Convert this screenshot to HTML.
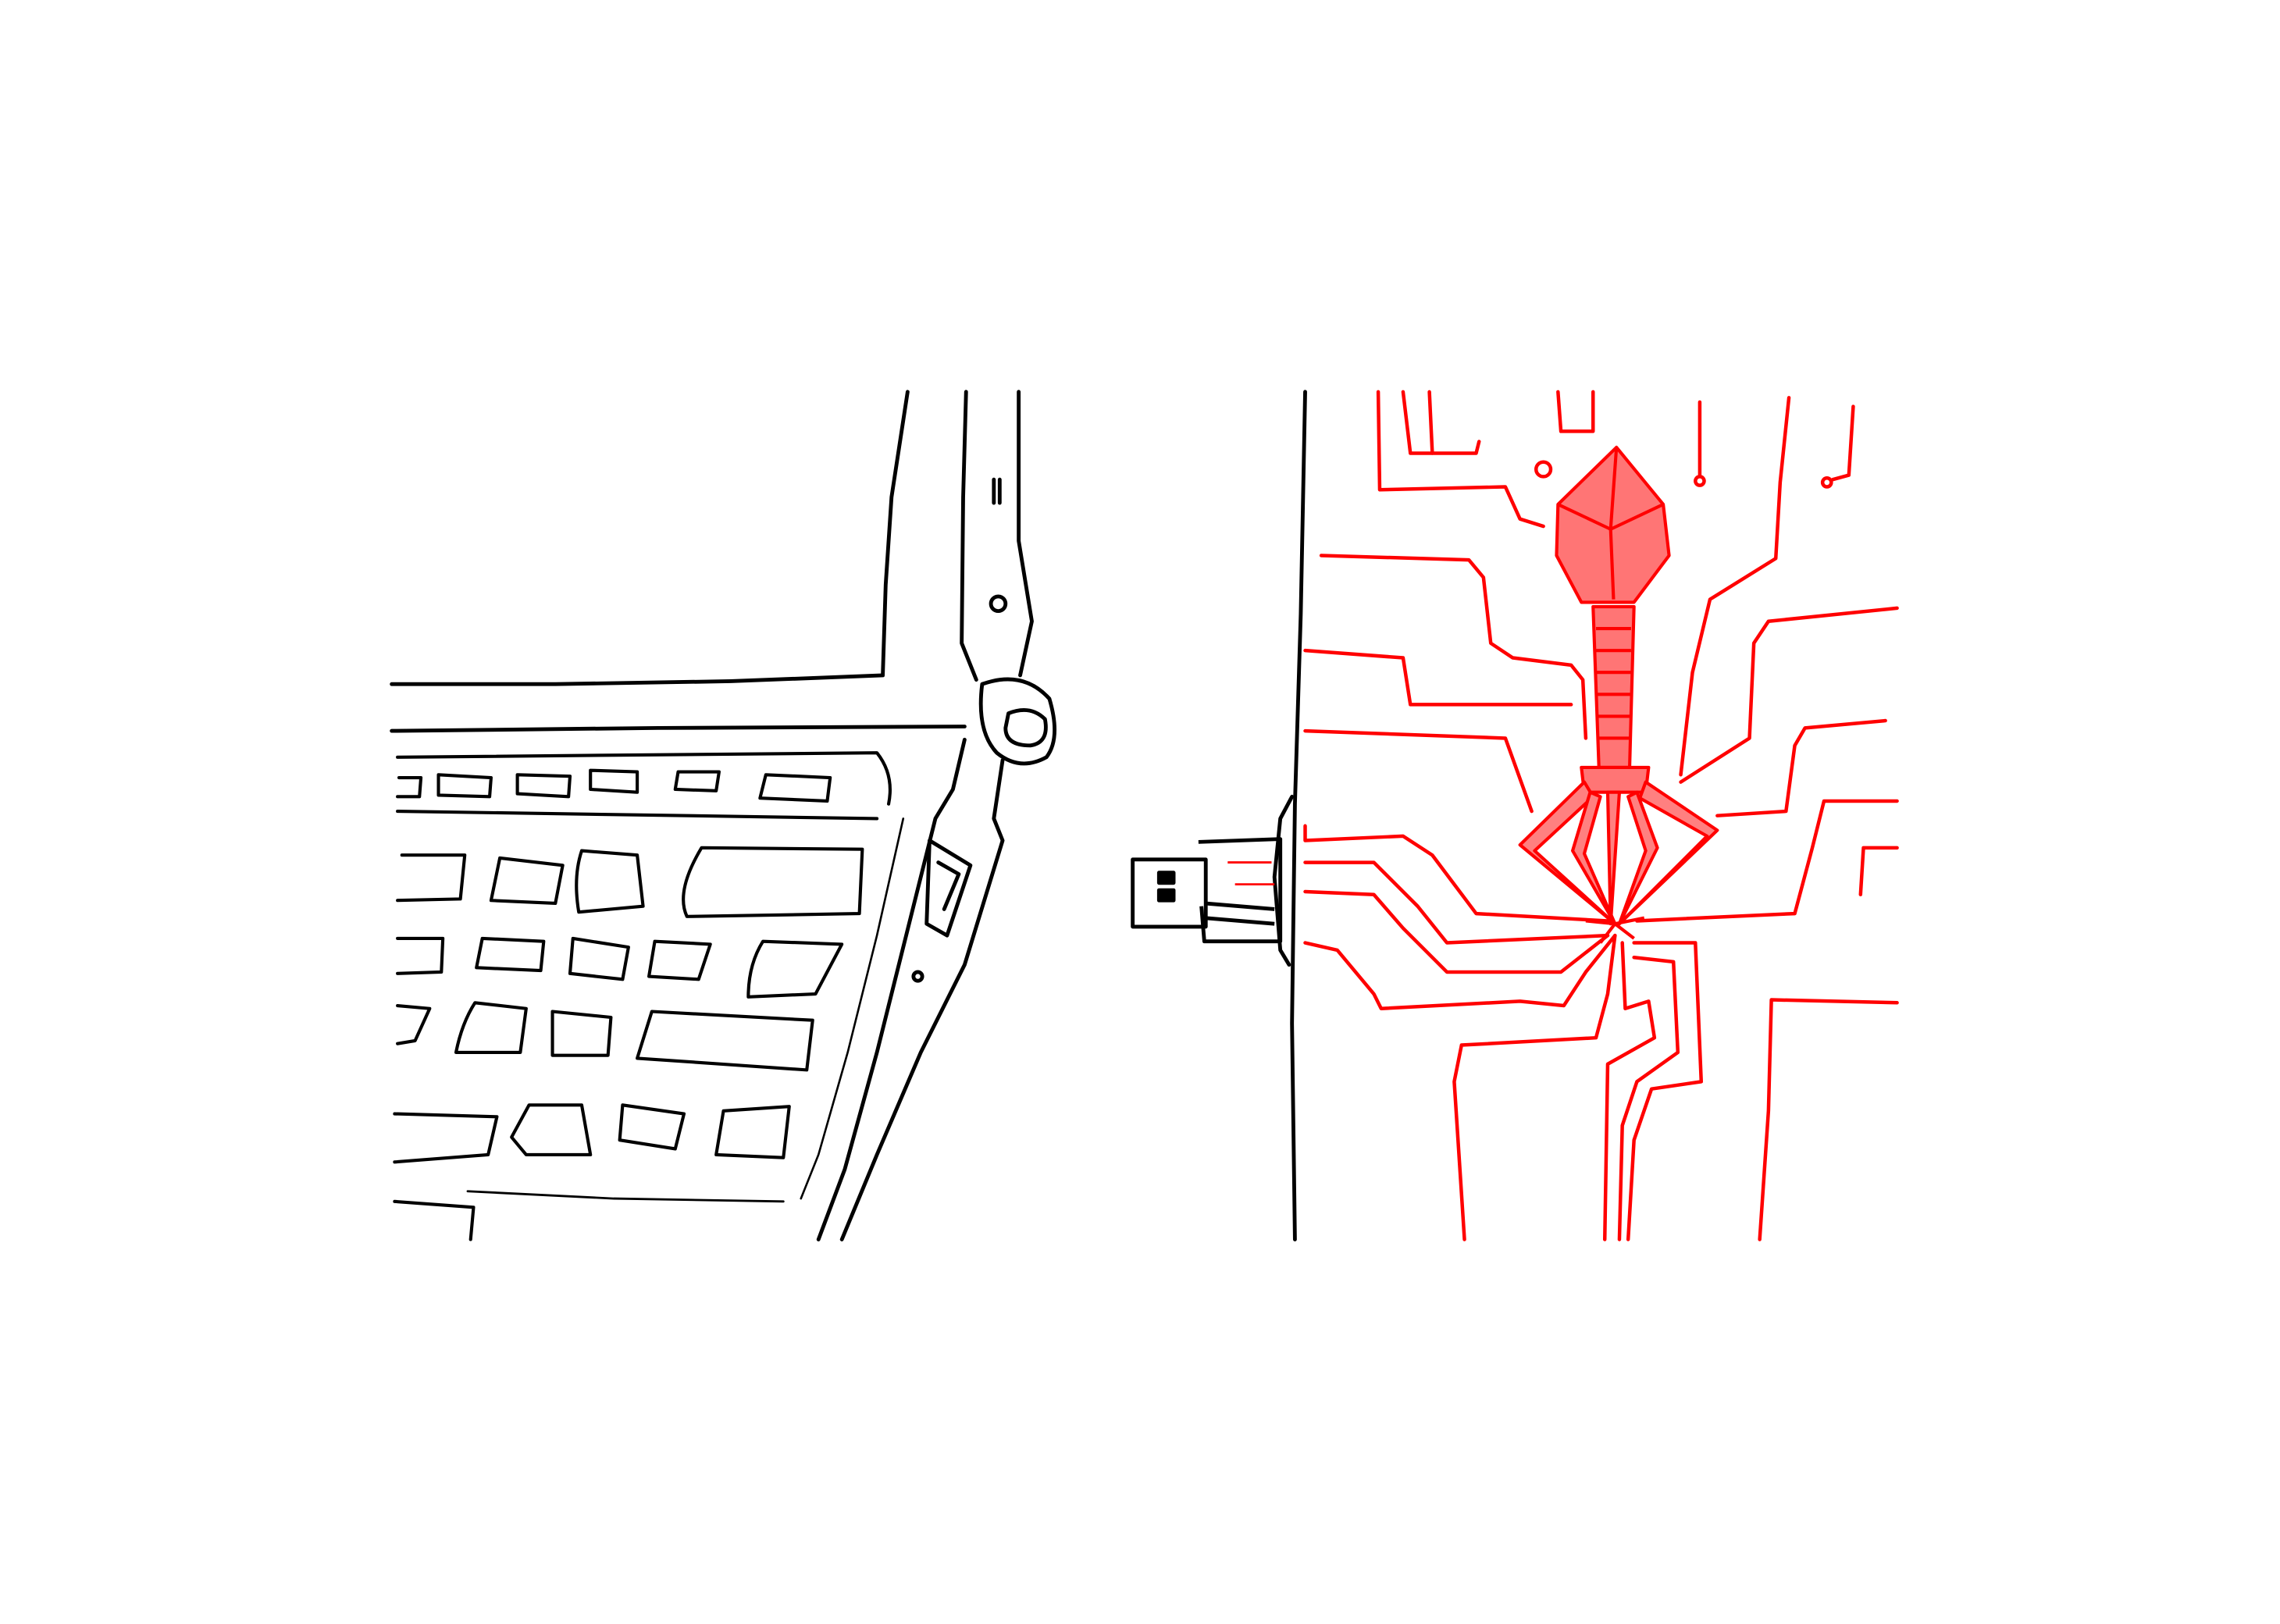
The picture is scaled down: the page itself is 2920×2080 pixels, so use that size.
<!DOCTYPE html>
<html><head><meta charset="utf-8"><style>
html,body{margin:0;padding:0;background:#fff;}
svg{display:block}
</style></head><body>
<svg width="2920" height="2080" viewBox="0 0 1560 1111" xmlns="http://www.w3.org/2000/svg">
<rect width="1560" height="1111" fill="#fff"/>
<g fill="none" stroke="#000" stroke-width="2.6" stroke-linecap="round" stroke-linejoin="round">
  <path d="M621 268 L610 340 L606 400 L604 462 L500 466 L380 468 L268 468"/>
  <path d="M661 268 L659 340 L658 440 L668 465"/>
  <path d="M697 268 L697 370 L706 425 L698 462"/>
  <path d="M680 328 L680 344 M684 328 L684 344"/>
  <circle cx="683" cy="413" r="5"/>
  <path d="M672 468 Q700 458 718 478 Q726 505 716 518 Q698 528 682 515 Q668 500 672 468 Z"/>
  <path d="M690 488 Q705 482 715 492 Q718 508 705 510 Q688 510 688 498 Z"/>
  <path d="M268 500 L450 498 L660 497"/>
  <path d="M660 506 L652 540 L640 560 L620 640 L600 720 L578 800 L560 848"/>
  <path d="M686 520 L680 560 L686 575 L660 660 L630 720 L600 790 L576 848"/>
  <path d="M636 575 L664 592 L648 640 L634 632 Z"/>
  <path d="M642 590 L656 598 L646 622"/>
  <circle cx="628" cy="668" r="3"/>
  <path d="M886 848 L884 700 L886 550 L890 420 L893 268"/>
  <path d="M884 545 L876 560 L872 600 L876 650 L882 660"/>
  <g stroke-width="2.2">
    <path d="M272 518 L600 515 Q612 530 608 550"/>
    <path d="M272 555 L600 560"/>
    <path d="M273 532 L288 532 L287 545 L272 545"/>
    <path d="M300 530 L336 532 L335 545 L300 544 Z"/>
    <path d="M354 530 L390 531 L389 545 L354 543 Z"/>
    <path d="M404 527 L436 528 L436 542 L404 540 Z"/>
    <path d="M464 528 L492 528 L490 541 L462 540 Z"/>
    <path d="M524 530 L568 532 L566 548 L520 546 Z"/>
    <path d="M275 585 L318 585 L315 615 L272 616"/>
    <path d="M342 587 L385 592 L380 618 L336 616 Z"/>
    <path d="M398 582 L436 585 L440 620 L396 624 Q392 600 398 582 Z"/>
    <path d="M480 580 L590 581 L588 625 L470 627 Q462 610 480 580 Z"/>
    <path d="M272 642 L303 642 L302 665 L272 666"/>
    <path d="M330 642 L372 644 L370 664 L326 662 Z"/>
    <path d="M392 642 L430 648 L426 670 L390 666 Z"/>
    <path d="M448 644 L486 646 L478 670 L444 668 Z"/>
    <path d="M522 644 L576 646 L558 680 L512 682 Q512 660 522 644 Z"/>
    <path d="M272 688 L294 690 L284 712 L272 714"/>
    <path d="M325 686 L360 690 L356 720 L312 720 Q316 700 325 686 Z"/>
    <path d="M378 692 L418 696 L416 722 L378 722 Z"/>
    <path d="M446 692 L556 698 L552 732 L436 724 Z"/>
    <path d="M270 762 L340 764 L334 790 L270 795"/>
    <path d="M362 756 L398 756 L404 790 L360 790 L350 778 Z"/>
    <path d="M426 756 L468 762 L462 786 L424 780 Z"/>
    <path d="M495 760 L540 757 L536 792 L490 790 Z"/>
    <path d="M270 822 L324 826 L322 848"/>
    <path d="M320 815 L420 820 L536 822" stroke-width="1.5"/>
    <path d="M618 560 L600 640 L580 720 L560 790 L548 820" stroke-width="1.4"/>
  </g>
</g>
<g fill="none" stroke="#000" stroke-width="2.6" stroke-linejoin="round">
  <rect x="775" y="588" width="50" height="46"/>
  <rect x="793" y="597" width="10" height="7" fill="#000"/>
  <rect x="793" y="609" width="10" height="7" fill="#000"/>
  <path d="M820 576 L876 574 L876 644 L824 644 L822 620"/>
  <path d="M824 618 L872 622 M824 628 L872 632"/>
  <path d="M840 590 L870 590 M845 605 L872 605" stroke="#f00" stroke-width="1.5"/>
</g>
<g fill="none" stroke="#f00" stroke-width="2.4" stroke-linecap="round" stroke-linejoin="round">
  <path d="M943 268 L944 335 L1030 333 L1040 355 L1056 360"/>
  <path d="M960 268 L965 310 L1010 310 L1012 302"/>
  <circle cx="1056" cy="321" r="5"/>
  <path d="M978 268 L980 310"/>
  <path d="M1066 268 L1068 295 L1090 295 L1090 268"/>
  <path d="M1163 275 L1163 325"/>
  <circle cx="1163" cy="329" r="3"/>
  <path d="M1224 272 L1218 330 L1215 382 L1170 410 L1158 460 L1150 530"/>
  <path d="M1268 278 L1265 325 L1254 328"/>
  <circle cx="1250" cy="330" r="3"/>
  <path d="M904 380 L1005 383 L1015 395 L1020 440 L1035 450 L1075 455 L1083 465 L1085 505"/>
  <path d="M893 445 L960 450 L965 482 L1075 482"/>
  <path d="M893 500 L1030 505 L1048 555"/>
  <path d="M1298 416 L1210 425 L1200 440 L1197 505 L1150 535"/>
  <path d="M1290 493 L1235 498 L1228 510 L1222 555 L1175 558"/>
  <path d="M1298 548 L1248 548 L1240 580 L1228 625 L1120 630"/>
  <path d="M1298 580 L1275 580 L1273 612"/>
  <path d="M893 565 L893 575 L960 572 L980 585 L1010 625 L1100 630"/>
  <path d="M893 590 L940 590 L970 620 L990 645 L1100 640"/>
  <path d="M893 610 L940 612 L960 635 L990 665 L1068 665 L1100 640"/>
  <path d="M893 645 L915 650 L940 680 L945 690 L1040 685 L1070 688 L1085 665 L1105 640"/>
  <path d="M1105 640 L1100 680 L1092 710 L1000 715 L995 740 L1002 848"/>
  <path d="M1110 645 L1112 690 L1128 685 L1132 710 L1100 728 L1098 848"/>
  <path d="M1118 655 L1145 658 L1148 720 L1120 740 L1110 770 L1108 848"/>
  <path d="M1118 645 L1160 645 L1164 740 L1130 745 L1118 780 L1114 848"/>
  <path d="M1298 686 L1212 684 L1210 760 L1204 848"/>
</g>
<g stroke="#f00" stroke-width="2.2" stroke-linejoin="round">
  <path d="M1106 306 L1138 345 L1142 380 L1118 412 L1082 412 L1065 380 L1066 345 Z" fill="#ff7575"/>
  <path d="M1066 345 L1102 362 L1138 345 M1102 362 L1104 410 M1106 306 L1102 362" fill="none"/>
  <path d="M1090 415 L1118 415 L1115 525 L1094 525 Z" fill="#ff7575"/>
  <path d="M1092 430 L1116 430 M1092 445 L1116 445 M1092 460 L1116 460 M1093 475 L1116 475 M1093 490 L1116 490 M1094 505 L1116 505" fill="none"/>
  <path d="M1082 525 L1128 525 L1126 542 L1084 542 Z" fill="#ff7575"/>
  <g fill="#ff8080">
    <path d="M1084 535 L1040 578 L1105 632 L1050 582 L1090 545 Z"/>
    <path d="M1126 535 L1175 568 L1108 632 L1168 572 L1122 546 Z"/>
    <path d="M1088 542 L1076 582 L1105 632 L1084 584 L1095 545 Z"/>
    <path d="M1120 542 L1134 580 L1108 632 L1126 582 L1114 545 Z"/>
    <path d="M1100 542 L1102 632 L1108 542 Z"/>
  </g>
  <path d="M1105 632 L1085 630 M1105 632 L1125 628 M1105 632 L1095 645 M1105 632 L1118 642" fill="none"/>
</g>
</svg>
</body></html>
